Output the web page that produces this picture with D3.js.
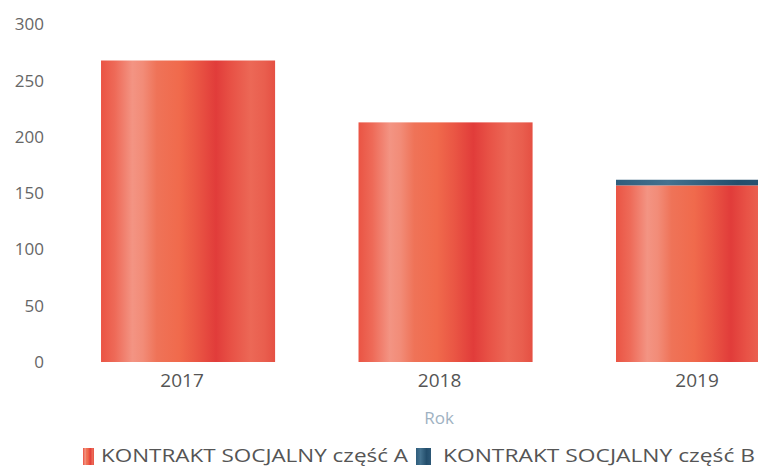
<!DOCTYPE html>
<html><head><meta charset="utf-8">
<script src="https://cdn.jsdelivr.net/npm/d3@7/dist/d3.min.js"></script>
<style>body{margin:0;background:#fff;overflow:hidden}</style>
</head><body>
<svg id="c" width="758" height="468"></svg>
<script>
const years = ["2017", "2018", "2019"];
const partA = [268, 213, 157];
const partB = [0, 0, 5];
const yTicks = [0, 50, 100, 150, 200, 250, 300];
const seriesNames = ["KONTRAKT SOCJALNY część A", "KONTRAKT SOCJALNY część B"];
const axisTitle = "Rok";

const svg = d3.select("#c");
const defs = svg.append("defs");
const gA = defs.append("linearGradient").attr("id", "gA").attr("x1", "0").attr("x2", "1").attr("y1", "0").attr("y2", "0");
[[0,"#ea5444"],[0.08,"#ee6a58"],[0.18,"#f39483"],[0.24,"#f28c78"],[0.32,"#ef7358"],[0.45,"#f06a4c"],[0.55,"#ea5644"],[0.66,"#e13c3a"],[0.75,"#e85246"],[0.86,"#ec6856"],[0.94,"#e95e4e"],[1,"#e55043"]]
  .forEach(([o,c]) => gA.append("stop").attr("offset", o).attr("stop-color", c));
const gB = defs.append("linearGradient").attr("id", "gB").attr("x1", "0").attr("x2", "1");
[[0,"#2f5d7c"],[0.3,"#44728f"],[0.7,"#234e6c"],[1,"#2d5877"]].forEach(([o,c]) => gB.append("stop").attr("offset", o).attr("stop-color", c));

const x = d3.scaleBand().domain(years).range([17.6, 873.5]).paddingInner(0.324).paddingOuter(0.324);
const y = d3.scaleLinear().domain([0, 300]).range([362, 24.5]);

// y axis labels
const yAxis = d3.axisLeft(y).tickValues(yTicks).tickSize(0).tickPadding(0);
const ya = svg.append("g").attr("transform", "translate(44,0)").call(yAxis);
ya.select(".domain").remove();
ya.selectAll("text").attr("font-family", "Open Sans").attr("font-size", 17).attr("fill", "#666");

// bars
svg.append("g").selectAll("rect").data(years).join("rect")
  .attr("x", d => x(d)).attr("width", x.bandwidth())
  .attr("y", (d, i) => y(partA[i])).attr("height", (d, i) => y(0) - y(partA[i]))
  .attr("fill", "url(#gA)");
svg.append("g").selectAll("rect").data(years).join("rect")
  .attr("x", d => x(d)).attr("width", x.bandwidth())
  .attr("y", (d, i) => y(partA[i] + partB[i])).attr("height", (d, i) => y(partA[i]) - y(partA[i] + partB[i]))
  .attr("fill", "url(#gB)");

// x axis
const xAxis = d3.axisBottom(x).tickSize(0).tickPadding(0);
const xa = svg.append("g").attr("transform", "translate(-6,0)").call(xAxis);
xa.select(".domain").remove();
xa.selectAll("text").attr("dy", null).attr("y", 387).attr("font-family", "Open Sans").attr("font-size", 19).attr("fill", "#555");

svg.append("text").attr("x", 439).attr("y", 424).attr("text-anchor", "middle")
  .attr("font-family", "Open Sans").attr("font-size", 17).attr("fill", "#9fb2c2").text(axisTitle);

// legend
const leg = svg.append("g").attr("font-family", "Open Sans").attr("font-size", 18).attr("fill", "#555");
const l1 = leg.append("g").attr("transform", "translate(83,448)");
l1.append("rect").attr("width", 11).attr("height", 17).attr("fill", "url(#gA)");
l1.append("text").attr("x", 18).attr("y", 13.5).attr("textLength", 307).attr("lengthAdjust", "spacingAndGlyphs").text(seriesNames[0]);
const l2 = leg.append("g").attr("transform", "translate(416,448)");
l2.append("rect").attr("width", 15).attr("height", 17).attr("fill", "url(#gB)");
l2.append("text").attr("x", 27).attr("y", 13.5).attr("textLength", 312).attr("lengthAdjust", "spacingAndGlyphs").text(seriesNames[1]);
</script>
</body></html>
